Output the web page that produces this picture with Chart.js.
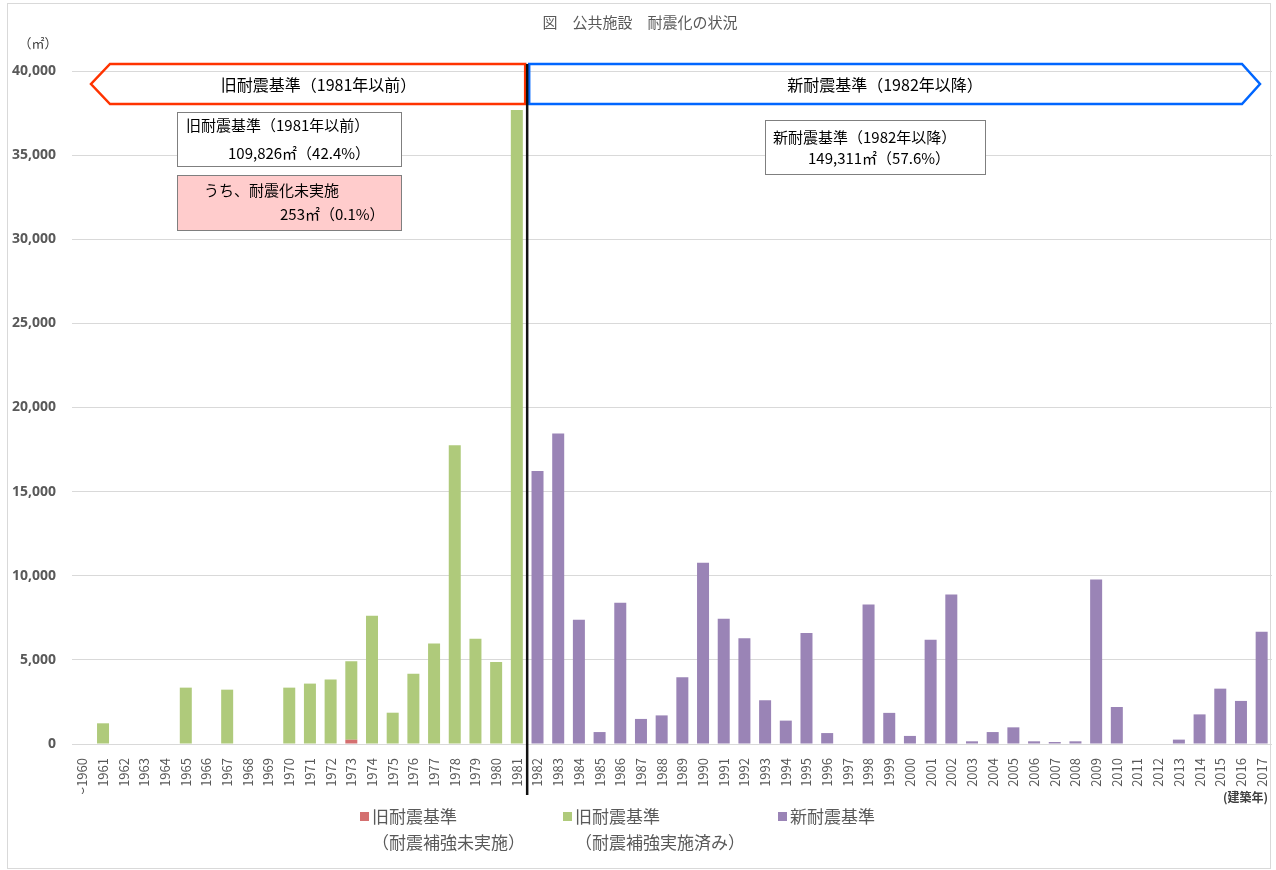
<!DOCTYPE html>
<html lang="ja">
<head>
<meta charset="utf-8">
<title>公共施設 耐震化の状況</title>
<script src="https://cdn.jsdelivr.net/npm/chart.js@4/dist/chart.umd.min.js"></script>
<style>
  html, body { margin: 0; padding: 0; background: #fff; }
  #wrap { width: 1276px; height: 870px; position: relative; }
</style>
</head>
<body>
<div id="wrap"><canvas id="quakeChart" width="1276" height="870"></canvas></div>
<script>
// --- data (m², by construction year) ---
const years = [
  "〜1960", "1961", "1962", "1963", "1964", "1965", "1966", "1967", "1968", "1969",
  "1970", "1971", "1972", "1973", "1974", "1975", "1976", "1977", "1978", "1979",
  "1980", "1981", "1982", "1983", "1984", "1985", "1986", "1987", "1988", "1989",
  "1990", "1991", "1992", "1993", "1994", "1995", "1996", "1997", "1998", "1999",
  "2000", "2001", "2002", "2003", "2004", "2005", "2006", "2007", "2008", "2009",
  "2010", "2011", "2012", "2013", "2014", "2015", "2016", "2017"
];

// 旧耐震基準（耐震補強未実施）
const oldUnreinforced = [
  null, null, null, null, null, null, null, null, null, null,
  null, null, null, 253, null, null, null, null, null, null,
  null, null, null, null, null, null, null, null, null, null,
  null, null, null, null, null, null, null, null, null, null,
  null, null, null, null, null, null, null, null, null, null,
  null, null, null, null, null, null, null, null
];

// 旧耐震基準（耐震補強実施済み）
const oldReinforced = [
  null, 1230, null, null, null, 3350, null, 3230, null, null,
  3350, 3590, 3830, 4670, 7620, 1860, 4170, 5970, 17760, 6250,
  4880, 37680, null, null, null, null, null, null, null, null,
  null, null, null, null, null, null, null, null, null, null,
  null, null, null, null, null, null, null, null, null, null,
  null, null, null, null, null, null, null, null
];

// 新耐震基準
const newStandard = [
  null, null, null, null, null, null, null, null, null, null,
  null, null, null, null, null, null, null, null, null, null,
  null, null, 16230, 18450, 7380, 710, 8390, 1490, 1700, 3970,
  10770, 7440, 6290, 2600, 1390, 6600, 650, 0, 8290, 1850,
  480, 6190, 8890, 160, 710, 990, 160, 120, 160, 9780,
  2200, 0, 0, 260, 1760, 3290, 2560, 6670
];

const yTicks = [0, 5000, 10000, 15000, 20000, 25000, 30000, 35000, 40000];

const legendItems = [
  { color: "#D47070", lines: ["旧耐震基準", "（耐震補強未実施）"] },
  { color: "#AFCA7B", lines: ["旧耐震基準", "（耐震補強実施済み）"] },
  { color: "#9A84B6", lines: ["新耐震基準"] }
];

const JP = "'Noto Sans CJK JP', 'Noto Sans', sans-serif";
const GRAY = "#595959";

/* --- overlay: frame, title, era arrows, divider, notes, legend --- */
const overlayPlugin = {
  id: "overlay",
  beforeDraw(chart) {
    const { ctx } = chart;
    ctx.save();
    ctx.fillStyle = "#fff";
    ctx.fillRect(0, 0, chart.width, chart.height);
    ctx.strokeStyle = "#D9D9D9";
    ctx.lineWidth = 1;
    ctx.strokeRect(7.5, 3.5, 1263, 865);
    ctx.restore();
  },
  afterDraw(chart) {
    const { ctx, chartArea } = chart;
    const x = chart.scales.x;
    const splitX = (x.getPixelForValue(21) + x.getPixelForValue(22)) / 2;

    ctx.save();
    // title
    ctx.fillStyle = GRAY;
    ctx.font = "15px " + JP;
    ctx.textAlign = "center";
    ctx.textBaseline = "middle";
    ctx.fillText("図　公共施設　耐震化の状況", 640, 22);

    // unit
    ctx.font = "13px " + JP;
    ctx.fillStyle = "#404040";
    ctx.fillText("（㎡）", 38, 43);

    // era arrows
    const top = 64, bot = 104, mid = (top + bot) / 2;
    ctx.lineWidth = 2.5;
    ctx.lineJoin = "miter";
    ctx.strokeStyle = "#FF3300";
    ctx.beginPath();
    ctx.moveTo(splitX - 2, top);
    ctx.lineTo(110, top);
    ctx.lineTo(91, mid);
    ctx.lineTo(110, bot);
    ctx.lineTo(splitX - 2, bot);
    ctx.closePath();
    ctx.stroke();

    ctx.strokeStyle = "#0066FF";
    ctx.beginPath();
    ctx.moveTo(splitX + 2, top);
    ctx.lineTo(1242, top);
    ctx.lineTo(1260, mid);
    ctx.lineTo(1242, bot);
    ctx.lineTo(splitX + 2, bot);
    ctx.closePath();
    ctx.stroke();

    ctx.fillStyle = "#000";
    ctx.font = "16px " + JP;
    ctx.fillText("旧耐震基準（1981年以前）", (110 + splitX) / 2, mid + 1);
    ctx.fillText("新耐震基準（1982年以降）", 885, mid + 1);

    // divider
    ctx.strokeStyle = "#111";
    ctx.lineWidth = 2.5;
    ctx.beginPath();
    ctx.moveTo(splitX, top);
    ctx.lineTo(splitX, chartArea.bottom + 51);
    ctx.stroke();

    // note boxes
    ctx.lineWidth = 1;
    ctx.strokeStyle = "#7F7F7F";
    ctx.fillStyle = "#fff";
    ctx.fillRect(177.5, 112.5, 224, 54);
    ctx.strokeRect(177.5, 112.5, 224, 54);
    ctx.fillStyle = "#FFCCCC";
    ctx.fillRect(177.5, 175.5, 224, 55);
    ctx.strokeRect(177.5, 175.5, 224, 55);
    ctx.fillStyle = "#fff";
    ctx.fillRect(765.5, 120.5, 220, 54);
    ctx.strokeRect(765.5, 120.5, 220, 54);

    ctx.fillStyle = "#000";
    ctx.textAlign = "left";
    ctx.font = "15px " + JP;
    ctx.fillText("旧耐震基準（1981年以前）", 186, 125);
    ctx.fillText("109,826㎡（42.4%）", 228, 153);
    ctx.fillText("うち、耐震化未実施", 204, 190);
    ctx.fillText("253㎡（0.1%）", 280, 214);
    ctx.fillText("新耐震基準（1982年以降）", 773, 137);
    ctx.fillText("149,311㎡（57.6%）", 808, 158);

    // x-axis title
    ctx.font = "bold 12px " + JP;
    ctx.fillStyle = "#404040";
    ctx.textAlign = "right";
    ctx.fillText("(建築年)", 1268, 797);

    // legend
    const legendX = [360, 563, 778];
    ctx.font = "17px " + JP;
    ctx.textAlign = "left";
    legendItems.forEach((item, i) => {
      const lx = legendX[i];
      ctx.fillStyle = item.color;
      ctx.fillRect(lx, 812, 9, 9);
      ctx.fillStyle = GRAY;
      item.lines.forEach((line, j) => {
        ctx.fillText(line, lx + 12, 817 + j * 26);
      });
    });
    ctx.restore();
  }
};

new Chart(document.getElementById("quakeChart"), {
  type: "bar",
  data: {
    labels: years,
    datasets: [
      { label: "旧耐震基準（耐震補強未実施）", data: oldUnreinforced, backgroundColor: legendItems[0].color },
      { label: "旧耐震基準（耐震補強実施済み）", data: oldReinforced, backgroundColor: legendItems[1].color },
      { label: "新耐震基準", data: newStandard, backgroundColor: legendItems[2].color }
    ]
  },
  options: {
    responsive: false,
    animation: false,
    devicePixelRatio: 1,
    layout: { padding: { top: 71, right: 4, bottom: 76, left: 0 } },
    datasets: { bar: { barPercentage: 0.58, categoryPercentage: 1, borderWidth: 0 } },
    plugins: {
      legend: { display: false },
      title: { display: false },
      tooltip: { enabled: false }
    },
    scales: {
      x: {
        stacked: true,
        grid: { display: false },
        border: { display: false },
        afterFit: (scale) => {
          scale.height = 50;
          scale.paddingLeft = 0;
          scale.paddingRight = 0;
        },
        ticks: {
          autoSkip: false,
          minRotation: 90,
          maxRotation: 90,
          padding: 6,
          color: GRAY,
          font: { family: JP, size: 13 }
        }
      },
      y: {
        stacked: true,
        min: yTicks[0],
        max: yTicks[yTicks.length - 1],
        afterFit: (scale) => { scale.width = 72; },
        afterBuildTicks: (scale) => { scale.ticks = yTicks.map((v) => ({ value: v })); },
        grid: { color: "#D9D9D9", drawTicks: false },
        border: { display: false },
        ticks: {
          padding: 16,
          color: GRAY,
          font: { family: "'Noto Sans', sans-serif", size: 14, weight: "bold" },
          callback: (v) => v.toLocaleString("en-US")
        }
      }
    }
  },
  plugins: [overlayPlugin]
});
</script>
</body>
</html>
